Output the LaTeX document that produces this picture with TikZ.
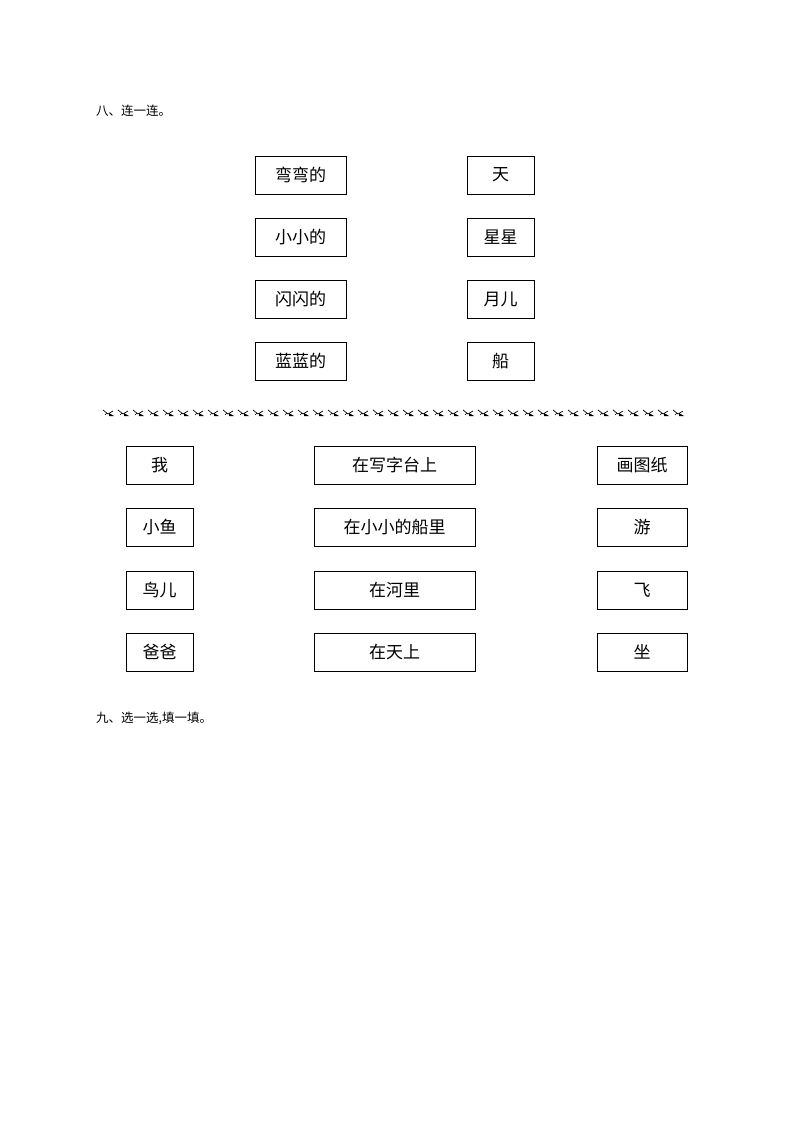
\documentclass[tikz,border=0pt]{standalone}
\usepackage{fontspec}
\setmainfont{Noto Sans CJK SC}
\begin{document}
\begin{tikzpicture}[x=1pt,y=-1pt,
 bx/.style={draw,line width=0.8pt,minimum height=38pt,inner sep=0pt,font=\fontsize{17}{17}\selectfont},
 ttl/.style={anchor=west,inner sep=0pt,font=\fontsize{12.5}{13}\selectfont}]
\useasboundingbox (0,0) rectangle (794,1123);
\node[ttl] (t8) at (96,111) {八、连一连。};
\foreach \n/\y/\a/\b in {a/175/弯弯的/天, b/237/小小的/星星, c/299/闪闪的/月儿, d/361/蓝蓝的/船}{
 \node[bx,minimum width=91pt] (L\n) at (300.5,\y) {\a};
 \node[bx,minimum width=67pt] (R\n) at (500.5,\y) {\b};
}
\foreach \i in {0,...,38}{
 \pgfmathsetmacro\xx{103+15*\i}
 \draw[line width=0.7pt] (\xx,410) -- (\xx+5,414) -- (\xx+10,411);
 \fill (\xx+6,413) -- (\xx+11,416) -- (\xx+6,416) -- cycle;
 \draw[line width=0.5pt] (\xx+2,415) -- (\xx+4,413);
}
\foreach \n/\y/\a/\b/\c in {a/465/我/在写字台上/画图纸, b/527/小鱼/在小小的船里/游, c/590/鸟儿/在河里/飞, d/652/爸爸/在天上/坐}{
 \node[bx,minimum width=67pt] (A\n) at (159.5,\y) {\a};
 \node[bx,minimum width=161pt] (B\n) at (394.5,\y) {\b};
 \node[bx,minimum width=90pt] (C\n) at (642,\y) {\c};
}
\node[ttl] (t9) at (96,718) {九、选一选,填一填。};
\end{tikzpicture}
\end{document}
